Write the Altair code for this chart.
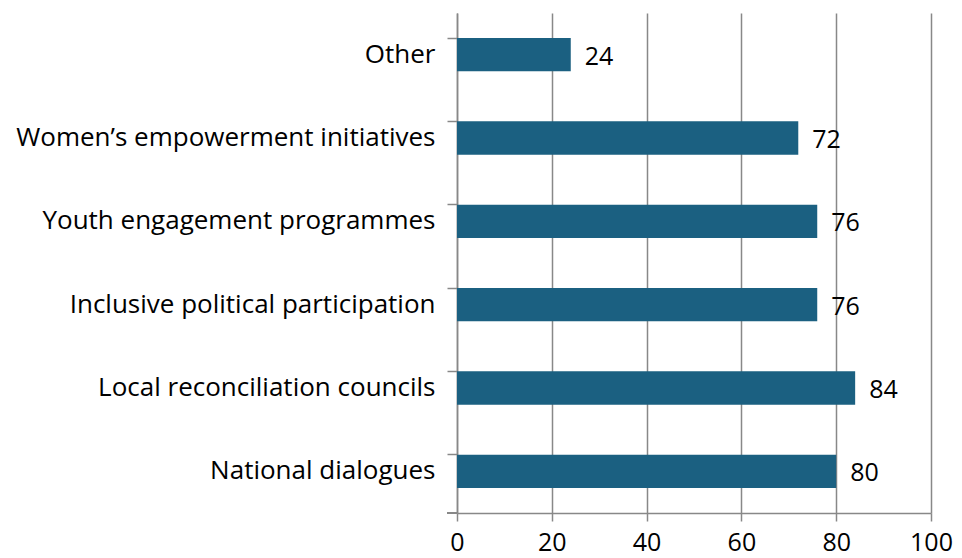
import altair as alt
import pandas as pd

categories = ["Other", "Women\u2019s empowerment initiatives", "Youth engagement programmes",
              "Inclusive political participation", "Local reconciliation councils", "National dialogues"]
values = [24, 72, 76, 76, 84, 80]

df = pd.DataFrame({"cat": categories, "val": values})
FONT = "Open Sans"

y_enc = alt.Y("cat:N", sort=categories, title=None,
              scale=alt.Scale(paddingInner=0.6, paddingOuter=0.3),
              axis=alt.Axis(bandPosition=0, tickSize=10, tickColor="#888888",
                            tickWidth=1.5, domainColor="#888888", domainWidth=1.5,
                            labelFont=FONT, labelFontSize=26, labelColor="#000000",
                            labelPadding=12, labelLimit=500))
x_enc = alt.X("val:Q", title=None, scale=alt.Scale(domain=[0, 100]),
              axis=alt.Axis(values=[0, 20, 40, 60, 80, 100], grid=True, gridColor="#888888",
                            gridWidth=1.5, tickSize=8, tickColor="#888888", tickWidth=1.5,
                            domainColor="#888888", domainWidth=1.5, labelFont=FONT,
                            labelFontSize=25, labelColor="#000000", labelPadding=9,
                            labelFlush=False))

bars = alt.Chart(df).mark_bar(color="#1b6081").encode(x=x_enc, y=y_enc)
text = alt.Chart(df).mark_text(align="left", baseline="middle", dx=14, dy=2, font=FONT,
                               fontSize=25, color="#000000").encode(
    x="val:Q", y=alt.Y("cat:N", sort=categories), text="val:Q")
bottom_tick = alt.Chart(df).mark_rule(color="#888888", strokeWidth=1.5).encode(
    x=alt.value(-10), x2=alt.value(0), y=alt.value(500))

chart = alt.layer(bars, text, bottom_tick).properties(
    width=474, height=500, autosize="none",
    padding={"left": 449, "top": 5, "right": 23, "bottom": 45}
).configure_view(stroke=None)

chart.save("out.html", embed_options={"renderer": "svg", "actions": False})
